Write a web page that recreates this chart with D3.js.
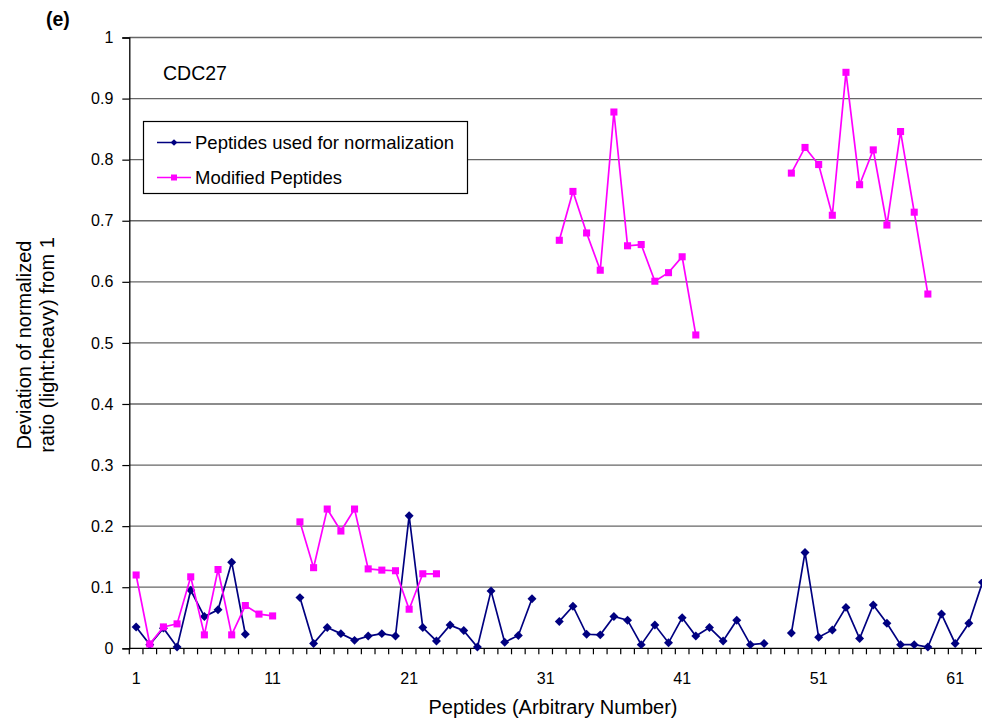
<!DOCTYPE html>
<html>
<head>
<meta charset="utf-8">
<script src="https://cdn.jsdelivr.net/npm/d3@7/dist/d3.min.js"></script>
<style>
  html, body { margin: 0; padding: 0; background: #fff; }
  svg { display: block; font-family: Arial, "Liberation Sans", sans-serif; }
</style>
</head>
<body>
<svg id="chart" width="982" height="721"></svg>
<script>
// Peptide numbers along the category axis
const peptides = [1, 2, 3, 4, 5, 6, 7, 8, 9, 10, 11, 12, 13, 14, 15, 16, 17, 18, 19, 20,
  21, 22, 23, 24, 25, 26, 27, 28, 29, 30, 31, 32, 33, 34, 35, 36, 37, 38, 39, 40,
  41, 42, 43, 44, 45, 46, 47, 48, 49, 50, 51, 52, 53, 54, 55, 56, 57, 58, 59, 60,
  61, 62, 63];

// Deviation from 1 of the normalized light:heavy ratio (null = not measured)
const normalization = [0.035, 0.006, 0.033, 0.002, 0.095, 0.052, 0.063, 0.141, 0.023, null,
  null, null, 0.083, 0.008, 0.034, 0.024, 0.013, 0.020, 0.024, 0.020,
  0.217, 0.034, 0.012, 0.038, 0.029, 0.002, 0.094, 0.010, 0.021, 0.081,
  null, 0.044, 0.069, 0.023, 0.022, 0.052, 0.046, 0.006, 0.038, 0.009,
  0.050, 0.020, 0.034, 0.012, 0.046, 0.006, 0.008, null, 0.025, 0.157,
  0.018, 0.030, 0.067, 0.016, 0.071, 0.041, 0.006, 0.006, 0.002, 0.056,
  0.008, 0.041, 0.108];

const modified = [0.120, 0.007, 0.035, 0.040, 0.117, 0.022, 0.129, 0.022, 0.070, 0.056,
  0.053, null, 0.207, 0.132, 0.228, 0.192, 0.228, 0.130, 0.128, 0.127,
  0.064, 0.122, 0.122, null, null, null, null, null, null, null,
  null, 0.668, 0.748, 0.680, 0.619, 0.878, 0.659, 0.661, 0.601, 0.615,
  0.641, 0.513, null, null, null, null, null, null, 0.778, 0.820,
  0.792, 0.709, 0.943, 0.759, 0.816, 0.693, 0.846, 0.714, 0.580, null,
  null, null, null];

const xTickLabels = [1, 11, 21, 31, 41, 51, 61];
const yTicks = [0, 0.1, 0.2, 0.3, 0.4, 0.5, 0.6, 0.7, 0.8, 0.9, 1];

const series = [
  { name: "Peptides used for normalization", values: normalization, color: "#000080", marker: "diamond" },
  { name: "Modified Peptides", values: modified, color: "#FF00FF", marker: "square" }
];

const svg = d3.select("#chart");
const plotLeft = 129.3, plotRight = 989.3, plotTop = 37.5, plotBottom = 648.3;

const x = d3.scaleBand().domain(peptides).range([plotLeft, plotRight]).paddingInner(0).paddingOuter(0);
const bw = x.bandwidth();
const cx = p => x(p) + bw / 2;
const y = d3.scaleLinear().domain([0, 1]).range([plotBottom, plotTop]);

// horizontal gridlines
svg.append("g")
  .selectAll("line")
  .data(yTicks.filter(t => t > 0))
  .join("line")
  .attr("x1", plotLeft).attr("x2", 982)
  .attr("y1", d => y(d)).attr("y2", d => y(d))
  .attr("stroke", "#666").attr("stroke-width", 1.3);

// y axis
const yAxis = d3.axisLeft(y).tickValues(yTicks).tickSize(7).tickPadding(9)
  .tickFormat(d => String(+d.toFixed(1)));
const gy = svg.append("g").attr("transform", `translate(${plotLeft},0)`).call(yAxis);
gy.select(".domain").attr("stroke", "#000").attr("stroke-width", 1.3);
gy.selectAll(".tick line").attr("stroke", "#000").attr("stroke-width", 1.2);
gy.selectAll(".tick text").attr("font-size", 16).attr("fill", "#000")
  .attr("font-family", 'Arial, "Liberation Sans", sans-serif');

// x axis: ticks between categories, labels every ten peptides
const gx = svg.append("g").attr("transform", `translate(0,${plotBottom})`);
gx.append("line").attr("x1", plotLeft).attr("x2", 982).attr("y1", 0).attr("y2", 0)
  .attr("stroke", "#000").attr("stroke-width", 1.3);
gx.selectAll("line.tick")
  .data(peptides)
  .join("line")
  .attr("class", "tick")
  .attr("x1", d => x(d)).attr("x2", d => x(d))
  .attr("y1", 0).attr("y2", 6)
  .attr("stroke", "#000").attr("stroke-width", 1.2);
gx.selectAll("text")
  .data(xTickLabels)
  .join("text")
  .attr("x", d => cx(d)).attr("y", 36)
  .attr("text-anchor", "middle")
  .attr("font-size", 16)
  .text(d => d);

// series lines and markers
const line = d3.line()
  .defined(d => d.v != null)
  .x(d => cx(d.p))
  .y(d => y(d.v));

const diamond = d3.symbol().type(d3.symbolSquare).size(40);
const square = d3.symbol().type(d3.symbolSquare).size(50);

series.forEach(s => {
  const pts = peptides.map((p, i) => ({ p, v: s.values[i] }));
  svg.append("path")
    .datum(pts)
    .attr("d", line)
    .attr("fill", "none")
    .attr("stroke", s.color)
    .attr("stroke-width", 1.7);
  svg.append("g")
    .selectAll("path")
    .data(pts.filter(d => d.v != null))
    .join("path")
    .attr("d", s.marker === "diamond" ? diamond : square)
    .attr("transform", d => `translate(${cx(d.p)},${y(d.v)})` + (s.marker === "diamond" ? " rotate(45)" : ""))
    .attr("fill", s.color);
});

// protein label
svg.append("text").attr("x", 163).attr("y", 80).attr("font-size", 19.5).text("CDC27");

// legend
const lg = svg.append("g");
lg.append("rect").attr("x", 143.5).attr("y", 121.5).attr("width", 324).attr("height", 72)
  .attr("fill", "#fff").attr("stroke", "#000").attr("stroke-width", 1.2);
series.forEach((s, i) => {
  const ly = 142.5 + i * 35;
  lg.append("line").attr("x1", 157).attr("x2", 191).attr("y1", ly).attr("y2", ly)
    .attr("stroke", s.color).attr("stroke-width", 1.7);
  lg.append("path")
    .attr("d", d3.symbol().type(d3.symbolSquare).size(s.marker === "diamond" ? 22 : 36)())
    .attr("transform", `translate(174,${ly})` + (s.marker === "diamond" ? " rotate(45)" : ""))
    .attr("fill", s.color);
  lg.append("text").attr("x", 195).attr("y", ly + 6.5).attr("font-size", 18.5).text(s.name);
});

// axis titles
svg.append("text").attr("x", 553).attr("y", 714).attr("text-anchor", "middle")
  .attr("font-size", 20).text("Peptides (Arbitrary Number)");
const yt = svg.append("g").attr("transform", "translate(0,345)");
yt.append("text").attr("transform", "translate(31,0) rotate(-90)").attr("text-anchor", "middle")
  .attr("font-size", 20).text("Deviation of normalized");
yt.append("text").attr("transform", "translate(54,0) rotate(-90)").attr("text-anchor", "middle")
  .attr("font-size", 20).text("ratio (light:heavy) from 1");

// panel letter
svg.append("text").attr("x", 46).attr("y", 26).attr("font-size", 19.5).attr("font-weight", "bold").text("(e)");
</script>
</body>
</html>
